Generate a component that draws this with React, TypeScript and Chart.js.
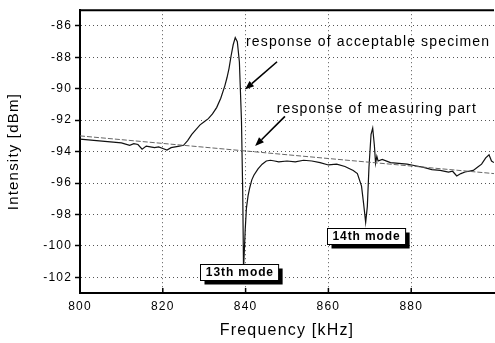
import React, { useEffect, useRef } from "react";
import { Chart, registerables } from "chart.js";

Chart.register(...registerables);

// ---- data ----
const specimenFreq = [
  800, 802, 804, 806, 808, 810, 812, 813, 814, 815, 816, 817, 818, 819, 820, 821, 822, 823, 824, 825,
  826, 827, 828, 829, 830, 831, 832, 833, 834, 835, 835.5, 836, 836.5, 837, 837.5, 838, 838.5, 839,
  839.3, 839.5, 839.9, 840.2, 840.6, 841, 841.5, 842, 843, 844, 845, 846, 847, 848, 850, 852, 854, 856,
  858, 860, 862, 864, 866, 867, 868, 868.5, 869, 869.4, 869.8, 870.3, 870.7, 871.1, 871.4, 871.7, 872,
  873, 875, 877, 879, 881, 883, 885, 887, 889, 890, 891, 892, 893, 895, 896, 897, 898, 898.8, 899.4, 900,
];
const specimenDbm = [
  -93.2, -93.25, -93.3, -93.35, -93.4, -93.45, -93.6, -93.5, -93.55, -93.85, -93.65, -93.7, -93.75, -93.7, -93.8,
  -93.9, -93.75, -93.7, -93.65, -93.6, -93.3, -92.9, -92.6, -92.3, -92.1, -91.9, -91.6, -91.2, -90.6, -89.8,
  -89.3, -88.7, -87.9, -87.2, -86.75, -87.0, -88.3, -92.0, -96.5, -101.5, -99.0, -97.6, -96.8, -96.3, -95.8,
  -95.5, -95.1, -94.8, -94.6, -94.55, -94.6, -94.65, -94.6, -94.65, -94.55, -94.6, -94.7, -94.85, -94.8,
  -94.95, -95.2, -95.4, -96.2, -97.3, -98.5, -97.5, -95.0, -92.9, -92.5, -93.6, -94.75, -94.3, -94.6,
  -94.5, -94.7, -94.75, -94.8, -94.9, -95.0, -95.15, -95.2, -95.3, -95.25, -95.55, -95.4, -95.3, -95.2,
  -95.0, -94.8, -94.4, -94.2, -94.6, -94.7,
];
const partFreq = [800, 850, 900];
const partDbm = [-93.0, -94.2, -95.4];

const xTicks = [800, 820, 840, 860, 880];
const yTicks = [-102, -100, -98, -96, -94, -92, -90, -88, -86];
const xRange = [800, 900];
const yRange = [-103, -85];

const noteTexts = ["response of acceptable specimen", "response of measuring part"];
const noteFreq = [840.1, 847.5];
const noteDbm = [-87.31, -91.57];
const arrowFromFreq = [847.6, 849.5];
const arrowFromDbm = [-88.28, -91.76];
const arrowToFreq = [839.86, 842.3];
const arrowToDbm = [-90.05, -93.65];

const modeLabels = ["13th mode", "14th mode"];
const modeFreq = [838.5, 869.1];
const modeDbm = [-101.64, -99.37];

const FONT = "'Liberation Sans', Arial, Helvetica, sans-serif";

const overlayPlugin = {
  id: "overlay",
  beforeDraw(chart: any) {
    chart.ctx.letterSpacing = "1.2px";
  },
  afterDraw(chart: any) {
    const ctx = chart.ctx as CanvasRenderingContext2D;
    const xs = chart.scales.x;
    const ys = chart.scales.y;
    const area = chart.chartArea;
    ctx.save();
    // top border
    ctx.strokeStyle = "#000";
    ctx.lineWidth = 2;
    ctx.beginPath();
    ctx.moveTo(area.left - 1, area.top);
    ctx.lineTo(area.right, area.top);
    ctx.stroke();
    // inside x ticks
    ctx.lineWidth = 1.5;
    xTicks.forEach((v) => {
      if (v === xRange[0]) return;
      const px = xs.getPixelForValue(v);
      ctx.beginPath();
      ctx.moveTo(px, area.bottom);
      ctx.lineTo(px, area.bottom - 5);
      ctx.stroke();
    });
    // arrows
    for (let i = 0; i < arrowFromFreq.length; i++) {
      const x1 = xs.getPixelForValue(arrowFromFreq[i]);
      const y1 = ys.getPixelForValue(arrowFromDbm[i]);
      const x2 = xs.getPixelForValue(arrowToFreq[i]);
      const y2 = ys.getPixelForValue(arrowToDbm[i]);
      const ang = Math.atan2(y2 - y1, x2 - x1);
      const hl = 9, hw = 3.5;
      const bx = x2 - hl * Math.cos(ang);
      const by = y2 - hl * Math.sin(ang);
      ctx.lineWidth = 1.6;
      ctx.beginPath();
      ctx.moveTo(x1, y1);
      ctx.lineTo(bx, by);
      ctx.stroke();
      ctx.fillStyle = "#000";
      ctx.beginPath();
      ctx.moveTo(x2, y2);
      ctx.lineTo(bx + hw * Math.sin(ang), by - hw * Math.cos(ang));
      ctx.lineTo(bx - hw * Math.sin(ang), by + hw * Math.cos(ang));
      ctx.closePath();
      ctx.fill();
    }
    // notes
    ctx.fillStyle = "#000";
    ctx.font = `14px ${FONT}`;
    (ctx as any).letterSpacing = "1.15px";
    ctx.textAlign = "left";
    ctx.textBaseline = "alphabetic";
    for (let i = 0; i < noteTexts.length; i++) {
      ctx.fillText(noteTexts[i], xs.getPixelForValue(noteFreq[i]), ys.getPixelForValue(noteDbm[i]));
    }
    // mode labels
    ctx.font = `bold 12px ${FONT}`;
    (ctx as any).letterSpacing = "0.9px";
    ctx.textAlign = "center";
    ctx.textBaseline = "middle";
    for (let i = 0; i < modeLabels.length; i++) {
      const cx = xs.getPixelForValue(modeFreq[i]);
      const cy = ys.getPixelForValue(modeDbm[i]);
      const w = ctx.measureText(modeLabels[i]).width + 10;
      const h = 16;
      const l = Math.round(cx - w / 2) + 0.5;
      const t = Math.round(cy - h / 2) + 0.5;
      ctx.fillStyle = "#000";
      ctx.fillRect(l + 4, t + 4, w, h);
      ctx.fillStyle = "#fff";
      ctx.fillRect(l, t, w, h);
      ctx.strokeStyle = "#000";
      ctx.lineWidth = 1;
      ctx.strokeRect(l, t, w, h);
      ctx.fillStyle = "#000";
      ctx.fillText(modeLabels[i], cx + 0.5, cy + 1);
    }
    ctx.restore();
    (ctx as any).letterSpacing = "1.2px";
  },
};

export default function App() {
  const canvasRef = useRef<HTMLCanvasElement | null>(null);

  useEffect(() => {
    if (!canvasRef.current) return;
    Chart.defaults.font.family = FONT;
    const chart = new Chart(canvasRef.current, {
      type: "line",
      data: {
        datasets: [
          {
            label: "response of measuring part",
            data: partFreq.map((f, i) => ({ x: f, y: partDbm[i] })),
            borderColor: "#666",
            borderWidth: 1,
            borderDash: [5, 2],
            pointRadius: 0,
            tension: 0,
          },
          {
            label: "response of acceptable specimen",
            data: specimenFreq.map((f, i) => ({ x: f, y: specimenDbm[i] })),
            borderColor: "#111",
            borderWidth: 1.2,
            pointRadius: 0,
            tension: 0,
          },
        ],
      },
      options: {
        animation: false,
        responsive: true,
        maintainAspectRatio: false,
        layout: { padding: { top: 8, right: 1, left: 0, bottom: 0 } },
        plugins: { legend: { display: false }, tooltip: { enabled: false } },
        scales: {
          x: {
            type: "linear",
            min: xRange[0],
            max: xRange[1],
            afterBuildTicks: (s: any) => {
              s.ticks = xTicks.map((v) => ({ value: v }));
            },
            afterFit: (s: any) => {
              s.height = 50;
            },
            ticks: {
              color: "#000",
              font: { size: 12 },
              padding: 6,
              maxRotation: 0,
              autoSkip: false,
            },
            grid: { color: "#555", lineWidth: 1, drawTicks: false },
            border: { display: true, color: "#000", width: 2, dash: [1, 3] },
            title: {
              display: true,
              text: "Frequency [kHz]",
              color: "#000",
              font: { size: 16 },
              padding: { top: 0, bottom: 3 },
            },
          },
          y: {
            type: "linear",
            min: yRange[0],
            max: yRange[1],
            afterBuildTicks: (s: any) => {
              s.ticks = yTicks.map((v) => ({ value: v }));
            },
            afterFit: (s: any) => {
              s.width = 80;
            },
            ticks: { color: "#000", font: { size: 12 }, padding: 3 },
            grid: {
              color: "#555",
              lineWidth: 1,
              tickLength: 5,
              tickColor: "#000",
              tickWidth: 1.5,
              tickBorderDash: [],
            },
            border: { display: true, color: "#000", width: 2, dash: [1, 3] },
            title: {
              display: true,
              text: "Intensity [dBm]",
              color: "#000",
              font: { size: 15 },
              padding: { top: 5, bottom: 0 },
            },
          },
        },
      },
      plugins: [overlayPlugin],
    } as any);
    return () => chart.destroy();
  }, []);

  return (
    <div style={{ position: "absolute", left: 0, top: 0, width: 495, height: 343 }}>
      <canvas ref={canvasRef} />
    </div>
  );
}
